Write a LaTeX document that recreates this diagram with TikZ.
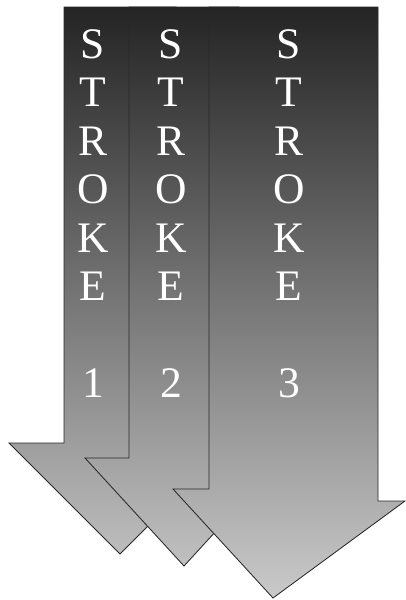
\documentclass[tikz,border=0pt]{standalone}
\usepackage{fontspec}
\setmainfont{Liberation Serif}
\usepackage{xcolor}
\usepackage{tikz}
\definecolor{strktop}{RGB}{36,36,36}
\definecolor{strkbot}{RGB}{202,202,202}
\definecolor{strkline}{RGB}{40,40,40}

\begin{document}
\begin{tikzpicture}[
  x=0.25mm, y=-0.25mm,
  strk/.style={draw=strkline, line width=0.6pt, line join=miter,
               path picture={\shade[top color=strktop, bottom color=strkbot] (0,7) rectangle (406,600);}},
  strklabel/.style={text=white, align=center, inner sep=0pt, anchor=north,
                    font=\fontsize{31pt}{34.5pt}\selectfont},
]
\useasboundingbox (0,0) rectangle (406,600);
% three down arrows, back to front
\draw[strk] (64,7) -- (176,7) -- (176,443) -- (231,443) -- (120,554) -- (9,443) -- (64,443) -- cycle;
\draw[strk] (129,7) -- (239,7) -- (239,458) -- (283,458) -- (184,566) -- (85,458) -- (129,458) -- cycle;
\draw[strk] (209,7) -- (378,7) -- (378,501) -- (405,501) -- (273,598) -- (173,489) -- (209,489) -- cycle;
% labels
\node[strklabel] (t1) at (93,29) {S\\T\\R\\O\\K\\E\\[34.5pt]1};
\node[strklabel] (t2) at (171,29) {S\\T\\R\\O\\K\\E\\[34.5pt]2};
\node[strklabel] (t3) at (289,29) {S\\T\\R\\O\\K\\E\\[34.5pt]3};
\end{tikzpicture}
\end{document}
